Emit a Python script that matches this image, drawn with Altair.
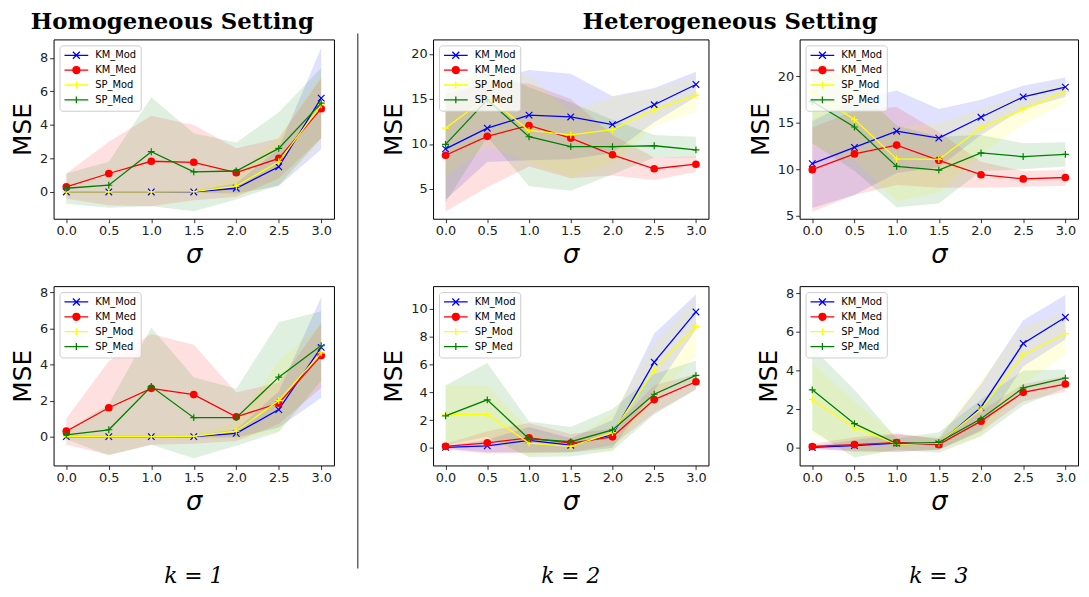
import altair as alt
import pandas as pd

SIGMA = [0.0, 0.5, 1.0, 1.5, 2.0, 2.5, 3.0]
SERIES = ["KM_Mod", "KM_Med", "SP_Mod", "SP_Med"]
COLORS = ["#0000ff", "#ff0000", "#ffff00", "#008000"]
LEGEND_FILLS = ["transparent", "#ff0000", "transparent", "transparent"]

# ---------- Homogeneous, k = 1 (top) ----------
HOM_T_MEAN = {
    "KM_Mod": [0.0, 0.0, 0.0, 0.0, 0.22, 1.5, 5.6],
    "KM_Med": [0.3, 1.1, 1.83, 1.77, 1.15, 2.0, 4.97],
    "SP_Mod": [0.0, 0.0, 0.0, 0.02, 0.35, 1.8, 5.2],
    "SP_Med": [0.22, 0.4, 2.4, 1.2, 1.25, 2.6, 5.3],
}
HOM_T_LO = {
    "KM_Mod": [-0.05, -0.05, -0.05, -0.05, -0.1, 0.35, 2.55],
    "KM_Med": [-0.4, -0.8, -0.85, -0.5, -0.3, 0.8, 3.2],
    "SP_Mod": [-0.05, -0.05, -0.05, -0.05, -0.2, 0.4, 3.0],
    "SP_Med": [-0.7, -0.95, -0.85, -1.15, -0.45, 0.4, 3.2],
}
HOM_T_HI = {
    "KM_Mod": [0.05, 0.05, 0.05, 0.05, 0.5, 2.6, 8.6],
    "KM_Med": [1.1, 3.0, 4.55, 4.0, 2.6, 3.2, 6.8],
    "SP_Mod": [0.05, 0.05, 0.05, 0.1, 0.9, 3.3, 7.0],
    "SP_Med": [1.1, 1.8, 5.65, 3.5, 2.95, 4.75, 7.4],
}

# ---------- Homogeneous, k = 1 (bottom) ----------
HOM_B_MEAN = {
    "KM_Mod": [0.0, 0.0, 0.0, 0.0, 0.18, 1.5, 4.95],
    "KM_Med": [0.3, 1.6, 2.68, 2.33, 1.1, 1.85, 4.5],
    "SP_Mod": [0.0, 0.0, 0.0, 0.02, 0.3, 2.0, 4.65],
    "SP_Med": [0.1, 0.38, 2.78, 1.05, 1.05, 3.3, 5.05],
}
HOM_B_LO = {
    "KM_Mod": [-0.05, -0.05, -0.05, -0.05, -0.05, 0.5, 2.15],
    "KM_Med": [-0.45, -1.0, -0.45, -0.4, -0.25, 0.7, 2.7],
    "SP_Mod": [-0.05, -0.05, -0.05, -0.05, -0.2, 0.3, 3.0],
    "SP_Med": [-0.15, -1.05, -0.45, -1.2, -0.5, 0.25, 3.1],
}
HOM_B_HI = {
    "KM_Mod": [0.05, 0.05, 0.05, 0.05, 0.4, 2.5, 7.75],
    "KM_Med": [1.0, 4.2, 5.7, 5.1, 2.45, 3.0, 6.3],
    "SP_Mod": [0.05, 0.05, 0.05, 0.1, 0.8, 4.2, 6.3],
    "SP_Med": [0.35, 1.8, 6.05, 3.3, 2.65, 6.35, 6.95],
}

# ---------- Heterogeneous, k = 2 (top) ----------
HET2_T_MEAN = {
    "KM_Mod": [9.45, 11.75, 13.2, 13.0, 12.15, 14.35, 16.6],
    "KM_Med": [8.75, 10.85, 12.05, 10.65, 8.8, 7.25, 7.75],
    "SP_Mod": [11.75, 15.2, 11.5, 11.0, 11.6, 13.8, 15.4],
    "SP_Med": [9.95, 14.9, 10.8, 9.7, 9.7, 9.8, 9.35],
}
HET2_T_LO = {
    "KM_Mod": [3.8, 8.0, 8.2, 8.3, 9.0, 12.4, 15.2],
    "KM_Med": [2.5, 5.2, 7.5, 6.2, 6.5, 6.0, 6.9],
    "SP_Mod": [6.5, 9.7, 8.0, 6.3, 7.8, 12.0, 13.6],
    "SP_Med": [3.5, 10.8, 5.3, 4.8, 6.6, 8.5, 8.5],
}
HET2_T_HI = {
    "KM_Mod": [15.5, 17.0, 18.2, 17.8, 15.3, 16.2, 18.0],
    "KM_Med": [15.0, 17.0, 16.7, 15.0, 11.0, 8.5, 8.6],
    "SP_Mod": [16.0, 19.0, 17.5, 13.5, 15.3, 16.0, 17.5],
    "SP_Med": [16.2, 18.3, 16.3, 14.6, 12.7, 11.0, 10.8],
}

# ---------- Heterogeneous, k = 2 (bottom) ----------
HET2_B_MEAN = {
    "KM_Mod": [0.05, 0.15, 0.55, 0.2, 0.95, 6.15, 9.75],
    "KM_Med": [0.12, 0.37, 0.73, 0.35, 0.8, 3.47, 4.75],
    "SP_Mod": [2.4, 2.4, 0.35, 0.12, 1.1, 5.6, 8.7],
    "SP_Med": [2.3, 3.45, 0.65, 0.45, 1.3, 3.85, 5.2],
}
HET2_B_LO = {
    "KM_Mod": [-0.05, -0.3, -0.3, -0.3, 0.0, 4.1, 8.5],
    "KM_Med": [-0.1, -0.4, -0.35, -0.3, 0.2, 2.5, 4.2],
    "SP_Mod": [0.3, 0.4, -0.5, -0.3, -0.2, 3.5, 6.6],
    "SP_Med": [0.2, 0.8, -0.65, -0.6, -0.2, 2.4, 4.2],
}
HET2_B_HI = {
    "KM_Mod": [0.15, 0.6, 1.5, 0.7, 2.0, 8.2, 11.0],
    "KM_Med": [0.3, 1.2, 1.8, 1.0, 1.4, 4.5, 5.3],
    "SP_Mod": [4.5, 4.5, 1.3, 0.5, 2.5, 7.5, 10.8],
    "SP_Med": [4.5, 6.1, 1.9, 1.5, 2.8, 5.3, 6.25],
}

# ---------- Heterogeneous, k = 3 (top) ----------
HET3_T_MEAN = {
    "KM_Mod": [10.6, 12.35, 14.1, 13.35, 15.6, 17.8, 18.85],
    "KM_Med": [9.95, 11.65, 12.6, 10.95, 9.4, 8.95, 9.1],
    "SP_Mod": [18.3, 15.35, 11.1, 11.05, 14.45, 16.45, 18.4],
    "SP_Med": [17.3, 14.55, 10.3, 9.9, 11.75, 11.35, 11.6],
}
HET3_T_LO = {
    "KM_Mod": [5.8, 7.2, 9.6, 10.2, 13.7, 16.5, 17.8],
    "KM_Med": [5.4, 7.2, 8.3, 8.0, 8.0, 8.1, 8.2],
    "SP_Mod": [12.5, 11.0, 6.5, 7.5, 11.6, 14.8, 17.2],
    "SP_Med": [12.8, 9.8, 5.9, 6.3, 9.8, 10.0, 10.3],
}
HET3_T_HI = {
    "KM_Mod": [15.2, 17.5, 18.5, 16.5, 17.5, 19.0, 19.9],
    "KM_Med": [14.5, 16.3, 16.7, 14.0, 10.8, 9.8, 9.9],
    "SP_Mod": [22.2, 19.5, 14.5, 15.0, 16.5, 18.2, 19.5],
    "SP_Med": [22.0, 19.0, 14.7, 13.5, 13.7, 12.8, 12.9],
}

# ---------- Heterogeneous, k = 3 (bottom) ----------
HET3_B_MEAN = {
    "KM_Mod": [0.02, 0.12, 0.25, 0.2, 2.1, 5.4, 6.75],
    "KM_Med": [0.07, 0.17, 0.27, 0.17, 1.38, 2.87, 3.3],
    "SP_Mod": [2.5, 1.05, 0.2, 0.25, 2.0, 4.8, 5.9],
    "SP_Med": [3.0, 1.25, 0.22, 0.28, 1.5, 3.1, 3.6],
}
HET3_B_LO = {
    "KM_Mod": [-0.05, -0.15, -0.2, -0.1, 0.9, 4.2, 5.6],
    "KM_Med": [-0.05, -0.2, -0.2, -0.1, 0.85, 2.4, 2.9],
    "SP_Mod": [0.7, -0.3, -0.2, -0.1, 0.6, 3.3, 4.8],
    "SP_Med": [0.9, -0.5, -0.1, -0.25, 0.6, 2.2, 3.1],
}
HET3_B_HI = {
    "KM_Mod": [0.1, 0.4, 0.7, 0.5, 3.3, 6.6, 7.9],
    "KM_Med": [0.2, 0.55, 0.75, 0.45, 1.9, 3.3, 3.7],
    "SP_Mod": [4.4, 2.4, 0.6, 0.6, 3.5, 6.3, 7.0],
    "SP_Med": [5.2, 3.0, 0.5, 0.8, 2.5, 4.0, 4.05],
}

# marker glyphs (plot) and legend glyphs (line + marker)
MARK_X = "M-1,-1L1,1M-1,1L1,-1"
MARK_PLUS = "M-1,0L1,0M0,-1L0,1"
LEG_PATHS = [
    "M-1,0L3.8,0M0.7,-0.7L2.1,0.7M0.7,0.7L2.1,-0.7",
    "M-1,0L3.8,0M2.1,0A0.7,0.7 0 1,1 0.7,0A0.7,0.7 0 1,1 2.1,0Z",
    "M-1,0L3.8,0M1.4,-0.7L1.4,0.7",
    "M-1,0L3.8,0M1.4,-0.7L1.4,0.7",
]

PH = 181  # plot height


def panel(mean, lo, hi, ydom, yticks, w, ktitle=None):
    rows = []
    for s in SERIES:
        for i, x in enumerate(SIGMA):
            rows.append({"sigma": x, "series": s, "mean": mean[s][i],
                         "lo": lo[s][i], "hi": hi[s][i]})
    df = pd.DataFrame(rows)
    base = alt.Chart(df)
    xscale = alt.Scale(domain=[-0.15, 3.15], nice=False, zero=False)
    yscale = alt.Scale(domain=ydom, nice=False, zero=False)
    xaxis = alt.Axis(values=SIGMA, format=".1f", title="σ")
    yaxis = alt.Axis(values=yticks, format="d", title="MSE")
    xenc = alt.X("sigma:Q", scale=xscale, axis=xaxis)

    layers = []
    for s, c in zip(SERIES, COLORS):
        layers.append(
            base.transform_filter(alt.datum.series == s)
            .mark_area(color=c, opacity=0.12, clip=True)
            .encode(x=xenc, y=alt.Y("lo:Q", scale=yscale, axis=yaxis), y2="hi:Q")
        )
    yenc = alt.Y("mean:Q", scale=yscale, axis=yaxis)
    for s, c in zip(SERIES, COLORS):
        sub = base.transform_filter(alt.datum.series == s)
        layers.append(sub.mark_line(color=c, strokeWidth=1.3, clip=True).encode(x=xenc, y=yenc))
        if s == "KM_Mod":
            pt = sub.mark_point(shape=MARK_X, size=44, filled=False, color=c,
                                strokeWidth=1.2, opacity=1)
        elif s == "KM_Med":
            pt = sub.mark_point(shape="circle", size=60, filled=True, color=c, opacity=1)
        else:
            pt = sub.mark_point(shape=MARK_PLUS, size=48, filled=False, color=c,
                                strokeWidth=1.2, opacity=1)
        layers.append(pt.encode(x=xenc, y=yenc))

    leg = alt.Legend(orient="top-left", offset=6, title=None, labelFont="DejaVu Sans",
                     labelFontSize=10, labelColor="black", symbolSize=100,
                     symbolStrokeWidth=1.3, strokeColor="#cccccc",
                     fillColor="rgba(255,255,255,0.8)", padding=4, cornerRadius=3,
                     rowPadding=1, labelOffset=20, symbolOpacity=1)
    dummy = pd.DataFrame({"sigma": [-5.0] * 4, "mean": [ydom[0]] * 4, "series": SERIES})
    layers.append(
        alt.Chart(dummy).mark_point(clip=True, opacity=1, strokeWidth=1.3)
        .encode(
            x=xenc, y=yenc,
            shape=alt.Shape("series:N", scale=alt.Scale(domain=SERIES, range=LEG_PATHS), legend=leg),
            stroke=alt.Stroke("series:N", scale=alt.Scale(domain=SERIES, range=COLORS), legend=leg),
            fill=alt.Fill("series:N", scale=alt.Scale(domain=SERIES, range=LEGEND_FILLS), legend=leg),
        )
    )
    props = dict(width=w, height=PH)
    if ktitle:
        props["title"] = alt.Title(ktitle, orient="bottom", anchor="middle", font="DejaVu Serif",
                                   fontStyle="italic", fontWeight="normal", fontSize=22,
                                   color="black", offset=53)
    return alt.layer(*layers).properties(**props)


def indep(c):
    return c.resolve_scale(shape="independent", stroke="independent", fill="independent")


p1 = panel(HOM_T_MEAN, HOM_T_LO, HOM_T_HI, [-1.6, 9.1], [0, 2, 4, 6, 8], 283)
p2 = panel(HOM_B_MEAN, HOM_B_LO, HOM_B_HI, [-1.6, 8.35], [0, 2, 4, 6, 8], 283, "k = 1")
p3 = panel(HET2_T_MEAN, HET2_T_LO, HET2_T_HI, [1.7, 21.6], [5, 10, 15, 20], 278)
p4 = panel(HET2_B_MEAN, HET2_B_LO, HET2_B_HI, [-1.25, 11.6], [0, 2, 4, 6, 8, 10], 278, "k = 2")
p5 = panel(HET3_T_MEAN, HET3_T_LO, HET3_T_HI, [4.65, 24.0], [5, 10, 15, 20], 281)
p6 = panel(HET3_B_MEAN, HET3_B_LO, HET3_B_HI, [-0.91, 8.36], [0, 2, 4, 6, 8], 281, "k = 3")

SEP_H = 534
sep = (
    alt.Chart(pd.DataFrame({"a": [0]}))
    .mark_rule(color="#666666", strokeWidth=1.5)
    .encode(x=alt.value(0), y=alt.value(-6), y2=alt.value(SEP_H))
    .properties(width=1, height=SEP_H, view=alt.ViewBackground(stroke="transparent"))
)


def big_title(t):
    return alt.Title(t, anchor="middle", font="DejaVu Serif", fontWeight="bold",
                     fontSize=23, color="black", offset=5)


left = indep(alt.vconcat(p1, p2, spacing=17, title=big_title("Homogeneous Setting")))
right = indep(alt.hconcat(
    indep(alt.vconcat(p3, p4, spacing=17)),
    indep(alt.vconcat(p5, p6, spacing=17)),
    spacing=38,
    title=big_title("Heterogeneous Setting"),
))

chart = (
    indep(alt.hconcat(left, sep, right, spacing=21))
    .properties(padding={"left": 2, "right": 2, "top": 0, "bottom": 0})
    .configure_view(stroke="black", strokeWidth=1)
    .configure_axis(labelFont="DejaVu Sans", labelFontSize=13, labelColor="#222222",
                    tickColor="black", tickSize=4, tickWidth=0.8, domain=False, grid=False,
                    titleFont="DejaVu Sans", titleFontWeight="normal", titleColor="black",
                    labelPadding=2, titlePadding=4)
    .configure_axisX(titleFontSize=26, titleFontStyle="italic")
    .configure_axisY(titleFontSize=25)
)

chart.save("out.html", embed_options={"renderer": "svg", "actions": False})
